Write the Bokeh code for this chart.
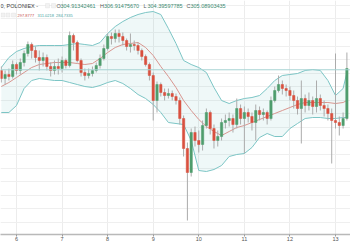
from bokeh.plotting import figure
from bokeh.models import (Range1d, FixedTicker, SingleIntervalTicker, Label, Span,
                          BoxAnnotation, ColumnDataSource)
from bokeh.embed import file_html
from bokeh.resources import INLINE

# ---------------- data ----------------
first_candle_day = 5 + 16 / 24      # first visible 2h candle: day 5, 16:00
candle_step_days = 2 / 24

opens = [304.8, 301.6, 303.2, 302.4, 307.2, 304.8, 308.0, 311.6, 315.2, 312.8,
         310.0, 308.8, 310.0, 306.4, 304.8, 306.4, 305.6, 308.8, 306.8, 318.8,
         316.0, 308.8, 304.0, 302.8, 303.6, 304.8, 306.8, 309.6, 313.6, 318.4,
         317.6, 319.6, 318.4, 316.8, 314.4, 315.2, 314.8, 312.8, 310.4, 307.2,
         302.8, 292.8, 299.2, 296.0, 294.8, 295.6, 294.4, 292.8, 285.6, 273.6,
         264.0, 280.0, 276.8, 275.2, 282.8, 288.0, 281.6, 276.8, 278.4, 284.0,
         284.8, 285.6, 283.2, 289.6, 285.6, 288.0, 286.4, 284.0, 288.8, 287.2,
         288.0, 285.6, 292.8, 296.8, 299.2, 297.6, 296.8, 294.8, 292.8, 289.6,
         293.6, 290.8, 292.8, 290.4, 293.6, 290.8, 289.6, 287.6, 284.8, 284.0,
         282.8, 285.6]
highs = [306.4, 304.8, 305.6, 308.8, 308.0, 309.6, 312.8, 316.4, 316.0, 314.4,
         312.8, 312.0, 311.2, 308.0, 308.8, 309.6, 310.4, 309.6, 320.4, 319.6,
         316.8, 309.6, 305.6, 305.6, 306.4, 308.0, 311.2, 315.2, 319.6, 320.0,
         321.2, 321.2, 320.0, 317.6, 319.6, 316.8, 316.0, 313.6, 311.2, 308.0,
         304.0, 300.4, 300.0, 297.6, 297.6, 296.8, 295.6, 294.0, 286.8, 276.0,
         281.6, 282.4, 280.8, 284.8, 289.6, 288.8, 283.2, 280.8, 285.6, 287.2,
         288.0, 287.2, 293.6, 291.2, 290.4, 289.6, 288.0, 291.2, 290.4, 289.6,
         288.8, 294.4, 298.4, 302.8, 300.8, 299.2, 298.4, 296.8, 294.4, 300.8,
         295.2, 296.0, 294.4, 300.8, 295.2, 292.8, 291.2, 289.6, 311.6, 286.4,
         288.0, 312.0]
lows = [300.0, 299.2, 300.8, 301.6, 303.2, 303.2, 306.4, 310.4, 309.6, 308.0,
        304.8, 306.4, 304.8, 302.4, 303.2, 303.2, 304.0, 305.6, 306.0, 312.8,
        308.0, 302.4, 300.8, 301.6, 302.4, 304.0, 305.6, 308.8, 312.8, 315.2,
        316.0, 316.0, 314.8, 312.8, 312.0, 312.8, 311.2, 308.8, 306.4, 300.8,
        284.8, 288.0, 294.4, 292.8, 293.6, 292.8, 291.2, 283.2, 270.4, 244.8,
        262.4, 274.4, 272.0, 272.8, 281.6, 279.2, 273.6, 274.4, 276.8, 281.6,
        282.4, 280.0, 281.6, 283.2, 271.6, 284.0, 280.8, 276.8, 284.8, 284.8,
        283.2, 284.8, 292.0, 296.0, 295.2, 294.4, 292.8, 289.6, 287.2, 275.6,
        288.0, 288.8, 287.2, 288.0, 288.8, 286.4, 284.8, 267.6, 281.6, 278.8,
        281.6, 284.8]
closes = [301.6, 303.2, 302.4, 307.2, 304.8, 308.0, 311.6, 315.2, 312.8, 310.0,
          308.8, 310.0, 306.4, 304.8, 306.4, 305.6, 308.8, 306.8, 318.8, 316.0,
          308.8, 304.0, 302.8, 303.6, 304.8, 306.8, 309.6, 313.6, 318.4, 317.6,
          319.6, 318.4, 316.8, 314.4, 315.2, 314.8, 312.8, 310.4, 307.2, 302.8,
          292.8, 299.2, 296.0, 294.8, 295.6, 294.4, 292.8, 285.6, 273.6, 264.0,
          280.0, 276.8, 275.2, 282.8, 288.0, 281.6, 276.8, 278.4, 284.0, 284.8,
          285.6, 283.2, 289.6, 285.6, 288.0, 286.4, 284.0, 288.8, 287.2, 288.0,
          285.6, 292.8, 296.8, 299.2, 297.6, 296.8, 294.8, 292.8, 289.6, 293.6,
          290.8, 292.8, 290.4, 293.6, 290.8, 289.6, 287.6, 284.8, 284.0, 282.8,
          285.6, 305.6]

# Bollinger bands (20, 2) read at every second candle and at the last one
band_upper = [306.0, 310.0, 312.4, 313.6, 314.4, 314.8, 314.8, 314.8, 314.8, 315.2,
              315.6, 315.2, 314.8, 316.0, 319.6, 322.4, 324.4, 326.0, 327.2, 328.0,
              328.4, 327.2, 321.6, 315.6, 308.8, 307.2, 306.0, 304.0, 298.0, 292.8,
              291.6, 292.8, 293.6, 294.0, 294.8, 297.6, 300.8, 302.8, 303.2, 303.6,
              304.8, 305.2, 304.8, 300.8, 294.8, 297.6, 304.0]
band_basis = [298.4, 300.0, 302.0, 304.0, 306.0, 307.2, 307.6, 308.0, 308.0, 308.0,
              307.6, 307.2, 307.6, 309.6, 312.0, 314.0, 315.2, 315.6, 316.0, 314.0,
              310.8, 306.4, 302.4, 298.0, 292.8, 288.8, 285.2, 282.4, 280.4, 278.8,
              280.4, 282.0, 282.8, 284.0, 285.2, 286.4, 287.6, 288.8, 290.0, 291.2,
              292.0, 292.0, 292.0, 292.0, 291.6, 292.0, 292.8]
band_lower = [288.0, 288.0, 290.8, 297.6, 300.8, 301.6, 301.2, 300.8, 300.8, 300.0,
              299.2, 298.4, 298.0, 298.8, 300.0, 300.8, 299.6, 297.6, 295.2, 293.6,
              291.2, 288.0, 284.0, 283.6, 283.2, 276.8, 264.8, 264.4, 265.2, 266.8,
              270.4, 271.2, 271.6, 274.0, 278.0, 279.6, 278.4, 278.4, 281.6, 283.6,
              285.6, 286.0, 286.0, 285.6, 285.6, 286.0, 286.0]

last_price = 305.08903435
day_ticks = [6, 7, 8, 9, 10, 11, 12, 13]
day_labels = ["6", "7", "8", "9", "10", "11", "12", "13"]

header_symbol = "0, POLONIEX -"
header_ohlc = [("O", "304.91342461"), ("H", "306.91475670"),
               ("L", "304.39597785"), ("C", "305.08903435")]
header_bb = ["297.8777", "311.0218", "284.7335"]
range_buttons = ["e", "6m", "YTD", "1y", "5y", "All", "Go to..."]
status_items = ["15:07:38 (UTC)", "ext", "%"]

# ---------------- derived ----------------
n = len(closes)
times = [first_candle_day + i * candle_step_days for i in range(n)]
band_idx = list(range(0, n, 2)) + [n - 1]
band_times = [times[i] for i in band_idx]

UP, DOWN = "#4f9d6d", "#d9503f"
colors = [UP if c >= o else DOWN for o, c in zip(opens, closes)]
src = ColumnDataSource(dict(
    t=times, h=highs, l=lows,
    top=[max(o, c) for o, c in zip(opens, closes)],
    bottom=[min(o, c) for o, c in zip(opens, closes)],
    color=colors))

FONT = "Liberation Sans"
Y_TOP, PX = 332.8, 0.4          # price at top edge, price per pixel


def y_of(px):
    """price value that sits px pixels below the top edge"""
    return Y_TOP - PX * px


p = figure(frame_width=350, frame_height=234,
           x_range=Range1d(5.649, 13.329), y_range=Range1d(y_of(234), Y_TOP),
           output_backend="svg", toolbar_location=None, y_axis_location=None,
           min_border_left=0, min_border_right=0, min_border_top=0, min_border_bottom=16)
p.outline_line_color = None
p.background_fill_color = "white"
p.border_fill_color = "white"

p.ygrid.ticker = SingleIntervalTicker(interval=5.424)
p.xgrid.ticker = FixedTicker(ticks=day_ticks)
p.xgrid.grid_line_color = "#ececec"
p.ygrid.grid_line_color = "#efefef"

ax = p.xaxis[0]
ax.ticker = FixedTicker(ticks=day_ticks)
ax.major_label_overrides = dict(zip(day_ticks, day_labels))
ax.axis_line_color = "#b9b9b9"
ax.axis_line_width = 1.5
ax.major_tick_line_color = "#9a9a9a"
ax.major_tick_in = 0
ax.major_tick_out = 2
ax.minor_tick_line_color = None
ax.major_label_standoff = 0
ax.major_label_text_font_size = "5.5px"
ax.major_label_text_color = "#555555"
ax.major_label_text_font = FONT

# Bollinger band
p.varea(x=band_times, y1=band_lower, y2=band_upper, fill_color="#4db6b6", fill_alpha=0.09)
p.line(band_times, band_upper, line_color="#7cc5c5", line_width=1)
p.line(band_times, band_lower, line_color="#7cc5c5", line_width=1)
p.line(band_times, band_basis, line_color="#d8958f", line_width=1)

p.add_layout(Span(location=last_price, dimension="width", line_color="#a6d3d3", line_width=1))

# candles
p.segment(x0="t", y0="h", x1="t", y1="l", source=src, line_color="#ababab", line_width=1)
p.vbar(x="t", width=candle_step_days * 0.62, top="top", bottom="bottom",
       fill_color="color", line_color="color", line_width=0.5, source=src)

# header texts
y1 = y_of(5)
y2 = y_of(14.5)
p.add_layout(Label(x=0, y=y1, x_units="screen", text=header_symbol, text_font=FONT,
                   text_font_size="5.5px", text_color="#3d3d3d", text_baseline="middle"))
for lx in (45, 51):
    p.add_layout(BoxAnnotation(left=lx, right=lx + 4, left_units="screen", right_units="screen",
                               top=y_of(3), bottom=y_of(7.5), fill_color="#f2f2f2", fill_alpha=1,
                               line_color="#c8c8c8", line_width=0.6))
ohlc_x = [56, 99.5, 143, 186]
for (lab, val), xx in zip(header_ohlc, ohlc_x):
    p.add_layout(Label(x=xx, y=y1, x_units="screen", text=lab, text_font=FONT,
                       text_font_size="5.5px", text_color="#5a5a5a", text_baseline="middle"))
    p.add_layout(Label(x=xx + 4, y=y1, x_units="screen", text=val, text_font=FONT,
                       text_font_size="5.5px", text_color="#3d8b72", text_baseline="middle"))
for lx in (0.5, 5.5, 11):
    p.add_layout(BoxAnnotation(left=lx, right=lx + 4, left_units="screen", right_units="screen",
                               top=y_of(12.5), bottom=y_of(16.5), fill_color="#f2f2f2", fill_alpha=1,
                               line_color="#c8c8c8", line_width=0.6))
bb_x = [17, 37, 55.5]
bb_col = ["#c5544f", "#3f9f9f", "#4aa3a3"]
for txt, xx, cc in zip(header_bb, bb_x, bb_col):
    p.add_layout(Label(x=xx, y=y2, x_units="screen", text=txt, text_font=FONT,
                       text_font_size="4px", text_color=cc, text_baseline="middle"))

# bottom toolbar strip (below the axis)
p.add_layout(BoxAnnotation(top=y_of(241), bottom=y_of(252), fill_color="#e9e9e9", fill_alpha=1,
                           line_color=None, level="overlay"))
yb = y_of(245.5)
btn_x = [0, 12, 27, 45, 59, 74, 89]
sep_x = [8, 22, 39, 53, 68, 85]
for txt, xx in zip(range_buttons, btn_x):
    p.add_layout(Label(x=xx, y=yb, x_units="screen", text=txt, text_font=FONT,
                       text_font_size="4.5px", text_color="#7a7a7a", text_baseline="middle"))
for xx in sep_x + [326, 341]:
    p.add_layout(Label(x=xx, y=yb, x_units="screen", text="|", text_font=FONT,
                       text_font_size="4.5px", text_color="#a5a5a5", text_baseline="middle"))
for txt, xx in zip(status_items, [291, 331, 345]):
    p.add_layout(Label(x=xx, y=yb, x_units="screen", text=txt, text_font=FONT,
                       text_font_size="4.5px", text_color="#7a7a7a", text_baseline="middle"))

open("out.html", "w").write(file_html(p, INLINE))
